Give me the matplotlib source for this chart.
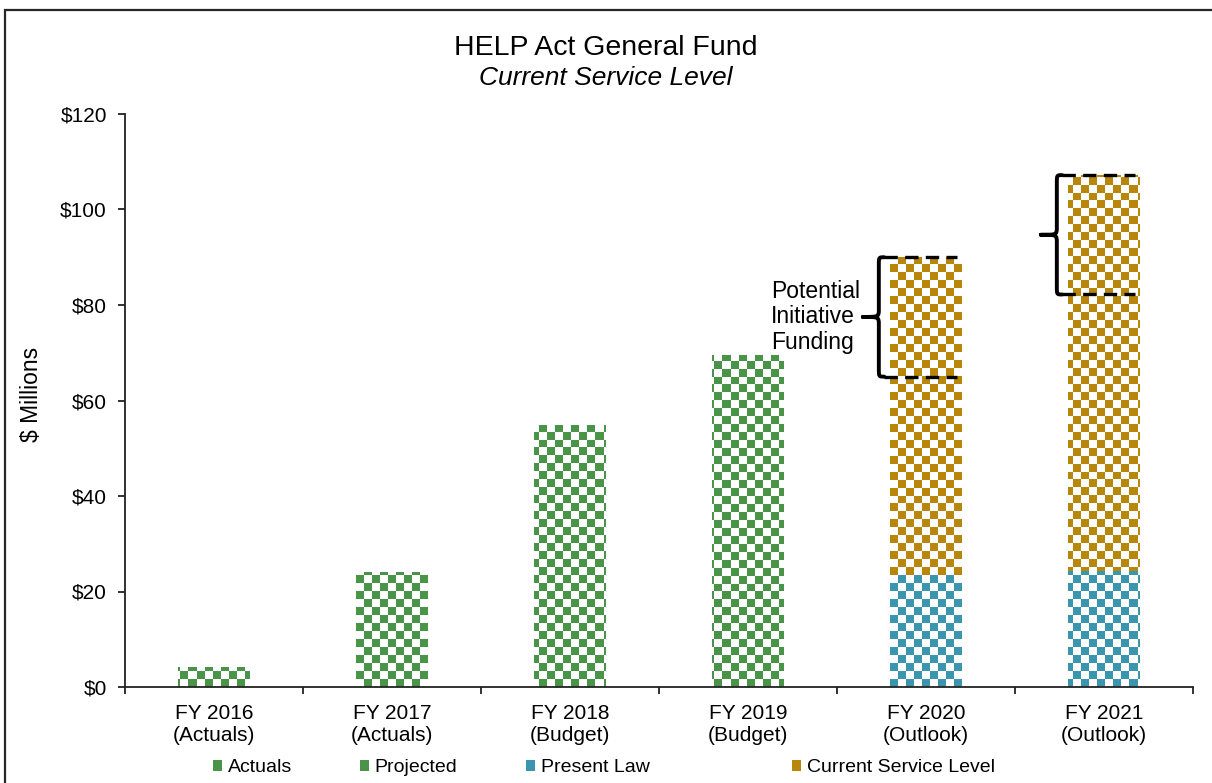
import numpy as np
import matplotlib
matplotlib.use("Agg")
import matplotlib.pyplot as plt
from matplotlib.colors import to_rgba
from matplotlib.patches import Rectangle, PathPatch
from matplotlib.path import Path

# ---------------- data ----------------
categories = ["FY 2016\n(Actuals)", "FY 2017\n(Actuals)", "FY 2018\n(Budget)",
              "FY 2019\n(Budget)", "FY 2020\n(Outlook)", "FY 2021\n(Outlook)"]
actuals = [4.1, 24.1, 0, 0, 0, 0]
projected = [0, 0, 54.9, 69.5, 0, 0]
present_law = [0, 0, 0, 0, 23.4, 24.2]
current_service = [0, 0, 0, 0, 66.6, 83.0]
initiative_base = [None, None, None, None, 65.0, 82.2]
series_names = ["Actuals", "Projected", "Present Law", "Current Service Level"]
yticks = [0, 20, 40, 60, 80, 100, 120]

GREEN = "#4a944a"
TEAL = "#3a95ae"
GOLD = "#b8860b"

plt.rcParams["font.family"] = ["Liberation Sans", "DejaVu Sans"]

fig = plt.figure(figsize=(12.12, 7.83), dpi=100)
ax = fig.add_axes([125 / 1212, 1 - 687 / 783, 1068 / 1212, 573 / 783])

x = np.arange(len(categories))
W = 0.4
b1 = ax.bar(x, actuals, W, color="none", linewidth=0)
b2 = ax.bar(x, projected, W, color="none", linewidth=0)
b3 = ax.bar(x, present_law, W, color="none", linewidth=0)
b4 = ax.bar(x, current_service, W, bottom=present_law, color="none", linewidth=0)

ax.set_xlim(-0.5, len(categories) - 0.5)
ax.set_ylim(0, 120)

# checkerboard fill clipped to each bar
bbox = ax.get_window_extent()
cell = 8.0
nx = int(round(bbox.width / cell))
ny = int(round(bbox.height / cell))
ii, jj = np.meshgrid(np.arange(nx), np.arange(ny))
mask = ((ii + jj) % 2) == 0


def checker_img(color):
    arr = np.zeros((ny, nx, 4))
    arr[mask] = to_rgba(color)
    return arr


for cont, col in [(b1, GREEN), (b2, GREEN), (b3, TEAL), (b4, GOLD)]:
    img = checker_img(col)
    for p in cont.patches:
        if p.get_height() <= 0:
            continue
        im = ax.imshow(img, extent=[-0.5, len(categories) - 0.5, 0, 120], origin="lower",
                       interpolation="nearest", aspect="auto", zorder=2)
        im.set_clip_path(p)

ax.set_xlim(-0.5, len(categories) - 0.5)
ax.set_ylim(0, 120)

# axes styling
for s in ["top", "right"]:
    ax.spines[s].set_visible(False)
for s in ["left", "bottom"]:
    ax.spines[s].set_linewidth(1.3)
    ax.spines[s].set_color("#222222")

ax.set_yticks(yticks)
ax.set_yticklabels([f"${v}" for v in yticks], fontsize=15)
ax.tick_params(axis="y", direction="out", length=5, width=1.3, pad=8, color="#222222")

ax.set_xticks(np.arange(-0.5, len(categories)), labels=[""] * (len(categories) + 1))
ax.tick_params(axis="x", which="major", direction="out", length=5, width=1.3, color="#222222")
ax.set_xticks(x, labels=categories, minor=True)
ax.tick_params(axis="x", which="minor", length=0, pad=12, labelsize=15)

ax.set_ylabel("$ Millions", fontsize=16.5)
ax.yaxis.set_label_coords(-0.077, 0.51)

# titles
fig.text(0.5, 1 - 55 / 783, "HELP Act General Fund", ha="center", va="baseline", fontsize=20.5)
fig.text(0.5, 1 - 85 / 783, "Current Service Level", ha="center", va="baseline",
         fontsize=19, style="italic")


# braces and dashed lines for potential initiative funding
def brace(ax, xc, y0, y1):
    xb = xc - 0.265
    xe = xc - 0.235
    xn = xc - 0.355
    ym = (y0 + y1) / 2
    r = 1.6
    verts = [(xe, y1), (xb, y1), (xb, y1), (xb, y1 - r),
             (xb, ym + r),
             (xb, ym), (xb, ym), (xn, ym),
             (xb, ym), (xb, ym), (xb, ym - r),
             (xb, y0 + r),
             (xb, y0), (xb, y0), (xe, y0)]
    codes = [Path.MOVETO, Path.CURVE4, Path.CURVE4, Path.CURVE4,
             Path.LINETO,
             Path.CURVE4, Path.CURVE4, Path.CURVE4,
             Path.CURVE4, Path.CURVE4, Path.CURVE4,
             Path.LINETO,
             Path.CURVE4, Path.CURVE4, Path.CURVE4]
    ax.add_patch(PathPatch(Path(verts, codes), facecolor="none", edgecolor="black",
                           lw=2.8, zorder=5, capstyle="round", joinstyle="round"))
    for yy in (y0, y1):
        ax.plot([xe, xc + 0.175], [yy, yy], color="black", lw=2.4,
                dashes=(4, 2.2), zorder=5, solid_capstyle="butt", dash_capstyle="butt")


for i, base in enumerate(initiative_base):
    if base is None:
        continue
    top = present_law[i] + current_service[i]
    brace(ax, x[i], base, top)
    if i == 4:
        ax.text(x[i] - 0.87, (base + top) / 2, "Potential\nInitiative\nFunding",
                ha="left", va="center", fontsize=16.5, linespacing=1.15, zorder=6)

# legend (individual entries positioned like the reference)
leg_x = [213, 360, 526, 792]
leg_cols = [GREEN, GREEN, TEAL, GOLD]
for name, lx, col in zip(series_names, leg_x, leg_cols):
    h = Rectangle((0, 0), 1, 1, facecolor=col, edgecolor="none")
    fig.legend([h], [name], loc="center left", bbox_to_anchor=(lx / 1212, 1 - 768 / 783),
               frameon=False, fontsize=14, handlelength=0.45, handleheight=0.45,
               handletextpad=0.3, borderpad=0, borderaxespad=0)

# outer frame
fig.patches.append(Rectangle((5 / 1212, -0.02), 1.05, 1 - 10 / 783 + 0.02,
                             transform=fig.transFigure, fill=False,
                             edgecolor="#262626", lw=1.6, clip_on=False))

fig.savefig("out.png", dpi=100)
